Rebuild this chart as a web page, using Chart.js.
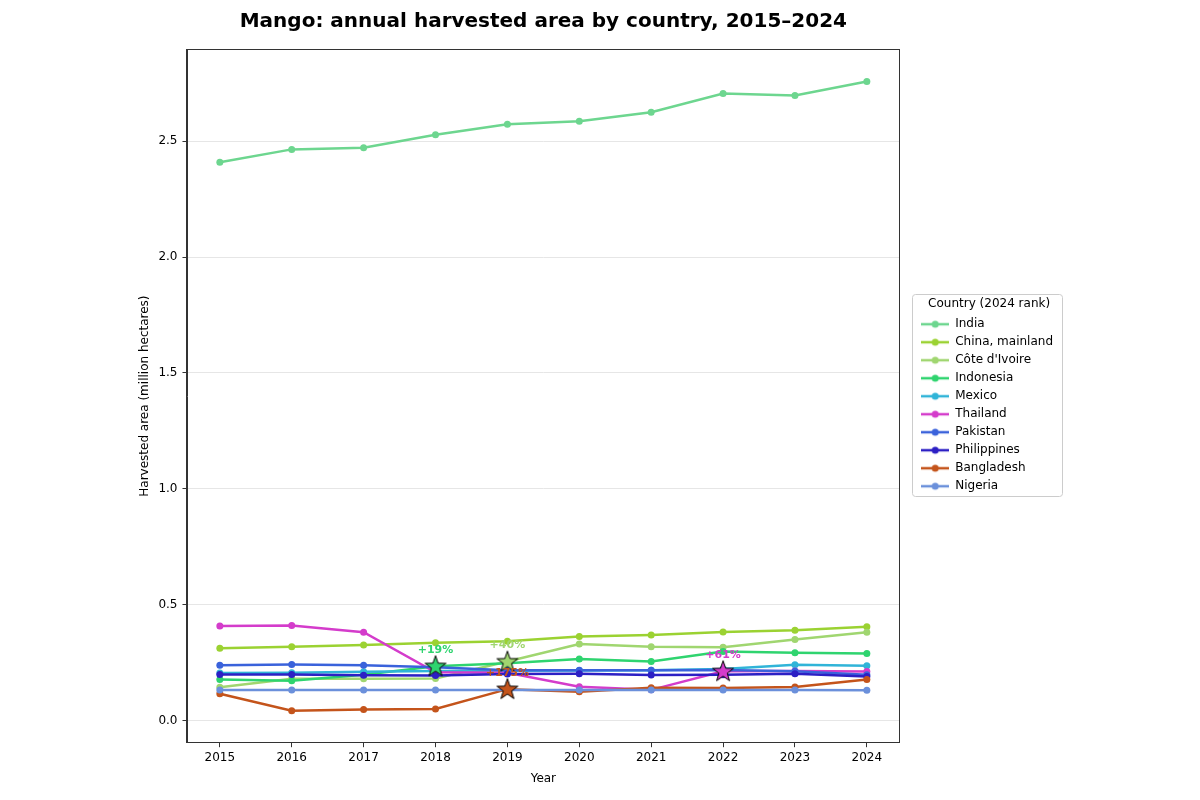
<!DOCTYPE html>
<html>
<head>
<meta charset="utf-8">
<title>Mango harvested area</title>
<script src="https://cdn.jsdelivr.net/npm/chart.js@4.4.1/dist/chart.umd.min.js"></script>
<style>
  html, body { margin: 0; padding: 0; background: #fff; }
  #wrap { width: 1200px; height: 800px; }
</style>
</head>
<body>
<div id="wrap"><canvas id="chart" width="1200" height="800"></canvas></div>
<script>
// values (million hectares)
const years = [2015, 2016, 2017, 2018, 2019, 2020, 2021, 2022, 2023, 2024];
const countries = ["India", "China, mainland", "Côte d'Ivoire", "Indonesia", "Mexico",
  "Thailand", "Pakistan", "Philippines", "Bangladesh", "Nigeria"];

const india       = [2.409, 2.465, 2.472, 2.528, 2.573, 2.586, 2.625, 2.706, 2.698, 2.758];
const china       = [0.312, 0.318, 0.326, 0.335, 0.342, 0.362, 0.369, 0.382, 0.389, 0.404];
const coteIvoire  = [0.143, 0.180, 0.180, 0.181, 0.254, 0.330, 0.318, 0.316, 0.349, 0.381];
const indonesia   = [0.177, 0.171, 0.197, 0.234, 0.247, 0.265, 0.254, 0.298, 0.292, 0.289];
const mexico      = [0.205, 0.206, 0.210, 0.213, 0.214, 0.216, 0.217, 0.222, 0.240, 0.236];
const thailand    = [0.408, 0.410, 0.381, 0.208, 0.206, 0.145, 0.132, 0.212, 0.213, 0.211];
const pakistan    = [0.238, 0.241, 0.238, 0.230, 0.217, 0.217, 0.217, 0.218, 0.212, 0.197];
const philippines = [0.198, 0.198, 0.195, 0.194, 0.200, 0.201, 0.196, 0.197, 0.201, 0.190];
const bangladesh  = [0.115, 0.042, 0.047, 0.049, 0.135, 0.124, 0.141, 0.140, 0.144, 0.177];
const nigeria     = [0.131, 0.131, 0.131, 0.131, 0.131, 0.131, 0.131, 0.131, 0.131, 0.130];

const series = [india, china, coteIvoire, indonesia, mexico, thailand, pakistan, philippines, bangladesh, nigeria];

const yTicks = [0, 0.5, 1.0, 1.5, 2.0, 2.5];

// biggest year-on-year jumps marked with a star
const highlightCountries = ["Indonesia", "Côte d'Ivoire", "Bangladesh", "Thailand"];
const highlightYears = [2018, 2019, 2019, 2022];
const highlightLabels = ["+19%", "+40%", "+175%", "+61%"];

const colors = ["#6dd68f", "#9bd232", "#a0d670", "#2fd46f", "#30b4d8",
  "#d43ccb", "#3a62db", "#2c1fc4", "#c4541b", "#6b90db"];

const FONT = "DejaVu Sans";

function legendIcon(color) {
  const c = document.createElement("canvas");
  c.width = 28;
  c.height = 10;
  const g = c.getContext("2d");
  g.strokeStyle = color;
  g.lineWidth = 2.5;
  g.beginPath();
  g.moveTo(0, 5);
  g.lineTo(28, 5);
  g.stroke();
  g.fillStyle = color;
  g.beginPath();
  g.arc(14, 5, 3.5, 0, Math.PI * 2);
  g.fill();
  return c;
}

function starIcon(color) {
  const c = document.createElement("canvas");
  c.width = 26;
  c.height = 26;
  const g = c.getContext("2d");
  const outer = 11, inner = 4.4;
  g.beginPath();
  for (let k = 0; k < 10; k++) {
    const r = k % 2 === 0 ? outer : inner;
    const a = -Math.PI / 2 + k * Math.PI / 5;
    const px = 13 + r * Math.cos(a);
    const py = 13.5 + r * Math.sin(a);
    if (k === 0) g.moveTo(px, py); else g.lineTo(px, py);
  }
  g.closePath();
  g.fillStyle = color;
  g.fill();
  g.strokeStyle = "#000";
  g.lineWidth = 1;
  g.stroke();
  return c;
}

const legendIcons = colors.map(legendIcon);
const starColors = highlightCountries.map(name => colors[countries.indexOf(name)]);
const starIcons = starColors.map(starIcon);

const datasets = countries.map((name, i) => ({
  label: name,
  data: years.map((yr, j) => ({ x: yr, y: series[i][j] })),
  borderColor: colors[i],
  backgroundColor: colors[i],
  borderWidth: 2.5,
  pointRadius: 3.5,
  pointBorderWidth: 0,
  pointHoverRadius: 3.5,
  tension: 0,
  order: countries.length - i + 1
}));

datasets.push({
  label: "highlights",
  data: highlightCountries.map((name, k) => ({
    x: highlightYears[k],
    y: series[countries.indexOf(name)][years.indexOf(highlightYears[k])]
  })),
  showLine: false,
  pointStyle: ctx => starIcons[ctx.dataIndex],
  pointRadius: 10,
  order: 0
});
const starIndex = datasets.length - 1;

const framePlugin = {
  id: "frame",
  afterDatasetsDraw(chart) {
    const { ctx } = chart;
    ctx.save();
    ctx.font = "bold 11px " + FONT;
    ctx.textAlign = "center";
    ctx.textBaseline = "middle";
    chart.getDatasetMeta(starIndex).data.forEach((pt, k) => {
      ctx.fillStyle = starColors[k];
      ctx.fillText(highlightLabels[k], pt.x, pt.y - 16);
    });
    ctx.restore();
  },
  afterDraw(chart) {
    const { ctx, chartArea: a } = chart;
    ctx.save();
    ctx.strokeStyle = "#333";
    ctx.lineWidth = 1;
    ctx.strokeRect(Math.round(a.left) - 0.5, Math.round(a.top) - 0.5,
      Math.round(a.right - a.left) + 1, Math.round(a.bottom - a.top) + 1);

    const boxes = chart.legend.legendHitBoxes;
    if (boxes && boxes.length) {
      const first = boxes[0];
      const last = boxes[boxes.length - 1];
      const right = Math.max(...boxes.map(b => b.left + b.width));
      const x0 = first.left - 9;
      const y0 = first.top - 24;
      const w = right + 9 - x0;
      const h = last.top + last.height + 4 - y0;
      ctx.strokeStyle = "#cccccc";
      ctx.beginPath();
      ctx.roundRect(Math.round(x0) + 0.5, Math.round(y0) + 0.5, Math.round(w), Math.round(h), 3);
      ctx.stroke();
    }
    ctx.restore();
  }
};

new Chart(document.getElementById("chart"), {
  type: "line",
  data: { datasets },
  plugins: [framePlugin],
  options: {
    responsive: false,
    animation: false,
    devicePixelRatio: 1,
    layout: { padding: { left: 136, right: 137, top: 0, bottom: 10 } },
    plugins: {
      tooltip: { enabled: false },
      title: {
        display: true,
        text: "Mango: annual harvested area by country, 2015–2024",
        font: { family: FONT, size: 20, weight: "bold" },
        color: "#000",
        fullSize: false,
        padding: { top: 10, bottom: 16 }
      },
      legend: {
        position: "right",
        title: {
          display: true,
          text: "Country (2024 rank)",
          font: { family: FONT, size: 12 },
          color: "#000",
          padding: { top: 6, bottom: 0 }
        },
        labels: {
          font: { family: FONT, size: 12 },
          color: "#000",
          usePointStyle: true,
          pointStyleWidth: 28,
          padding: 6,
          filter: item => item.datasetIndex < countries.length,
          sort: (a, b) => a.datasetIndex - b.datasetIndex,
          generateLabels(chart) {
            const items = Chart.defaults.plugins.legend.labels.generateLabels(chart);
            items.forEach(item => {
              if (item.datasetIndex < countries.length) {
                item.pointStyle = legendIcons[item.datasetIndex];
              }
            });
            return items;
          }
        }
      }
    },
    scales: {
      x: {
        type: "linear",
        min: 2014.55,
        max: 2024.45,
        afterBuildTicks: scale => { scale.ticks = years.map(v => ({ value: v })); },
        ticks: {
          callback: v => String(v),
          font: { family: FONT, size: 12 },
          color: "#000",
          padding: 3,
          maxRotation: 0,
          autoSkip: false
        },
        grid: { drawOnChartArea: false, drawTicks: true, tickLength: 5, tickColor: "#333" },
        border: { display: true, color: "#333" },
        title: {
          display: true,
          text: "Year",
          font: { family: FONT, size: 12 },
          color: "#000",
          padding: { top: 4, bottom: 4 }
        }
      },
      y: {
        type: "linear",
        min: -0.094,
        max: 2.894,
        afterBuildTicks: scale => { scale.ticks = yTicks.map(v => ({ value: v })); },
        ticks: {
          callback: v => v.toFixed(1),
          font: { family: FONT, size: 12 },
          color: "#000",
          padding: 5
        },
        grid: { color: "#e6e6e6", lineWidth: 1, tickLength: 5, tickColor: "#333" },
        border: { display: true, color: "#333" },
        title: {
          display: true,
          text: "Harvested area (million hectares)",
          font: { family: FONT, size: 12 },
          color: "#000",
          padding: { top: 2, bottom: 1 }
        }
      },
      gap: {
        type: "linear",
        position: "right",
        display: true,
        ticks: { display: false },
        grid: { display: false },
        border: { display: false },
        afterFit: scale => { scale.width = 16; }
      }
    }
  }
});
</script>
</body>
</html>
